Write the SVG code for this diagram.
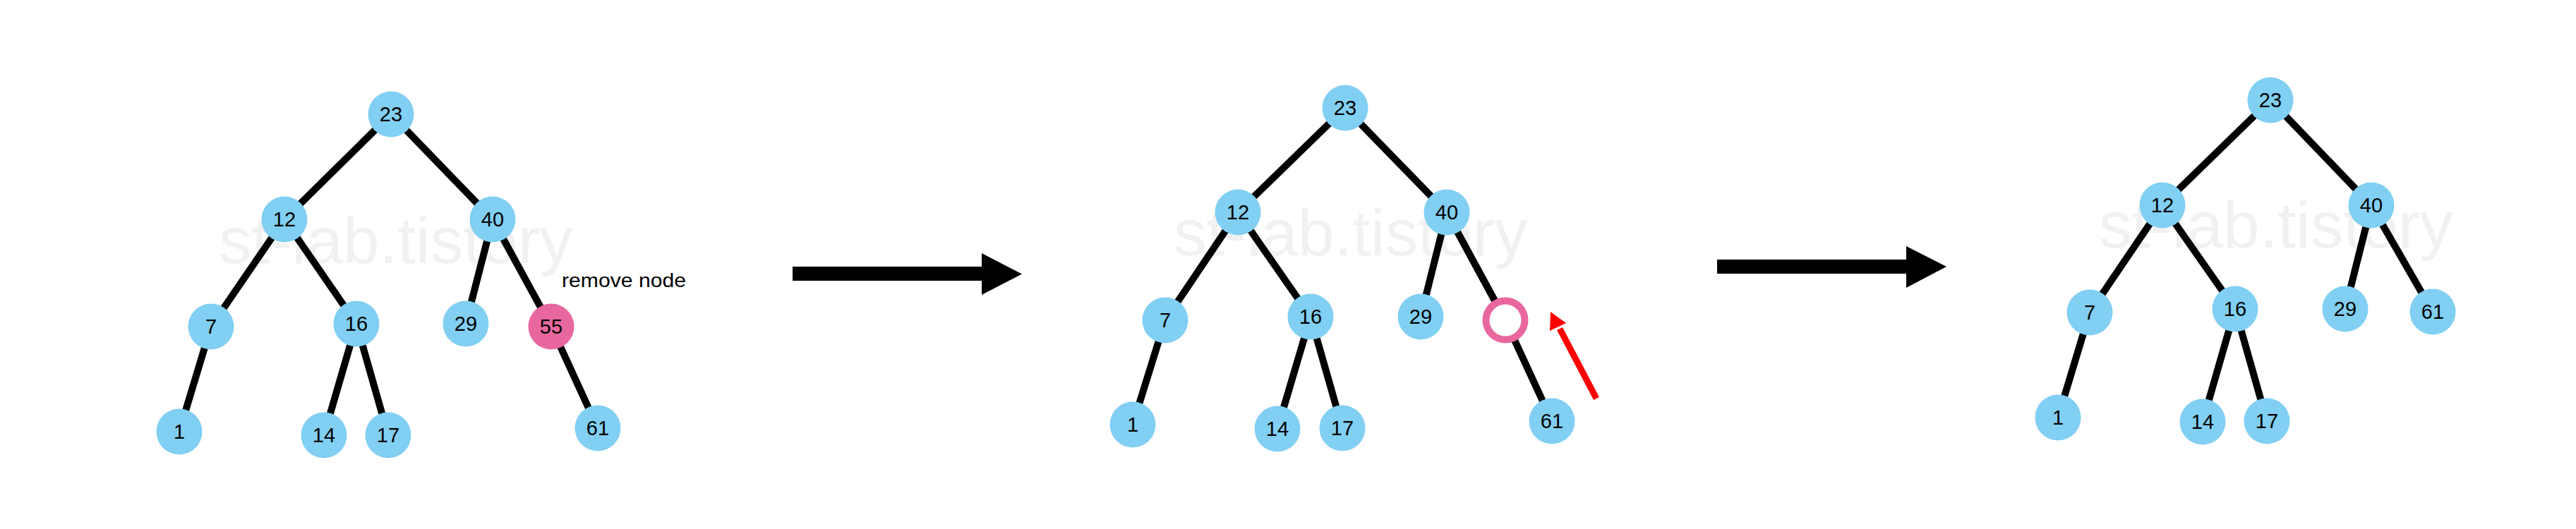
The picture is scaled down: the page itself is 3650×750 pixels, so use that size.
<svg xmlns="http://www.w3.org/2000/svg" width="3650" height="750" viewBox="0 0 3650 750">
<style>
.wm{font-family:"Liberation Sans",Arial,sans-serif;font-size:93px;fill:#f1f1f1}
.e{stroke:#000;stroke-width:10;fill:none}
.n{fill:#81cff2}
.p{fill:#e8679f}
.t{font-family:"Liberation Sans",Arial,sans-serif;font-size:29px;fill:#000;text-anchor:middle;dominant-baseline:central}
.lbl{font-family:"Liberation Sans",Arial,sans-serif;font-size:28px;fill:#000}
</style>
<rect width="3650" height="750" fill="#fff"/>
<g id="watermarks">
<text class="wm" x="310" y="373">st-lab.tistory</text>
<text class="wm" x="1663" y="362">st-lab.tistory</text>
<text class="wm" x="2974" y="351">st-lab.tistory</text>
</g>
<g id="connectors">
<!-- tree 1 -->
<line class="e" x1="554" y1="162" x2="403" y2="311"/>
<line class="e" x1="554" y1="162" x2="698" y2="311"/>
<line class="e" x1="403" y1="311" x2="299" y2="463"/>
<line class="e" x1="403" y1="311" x2="505" y2="459"/>
<line class="e" x1="299" y1="463" x2="254" y2="612"/>
<line class="e" x1="505" y1="459" x2="459" y2="617"/>
<line class="e" x1="505" y1="459" x2="550" y2="617"/>
<line class="e" x1="698" y1="311" x2="660" y2="459"/>
<line class="e" x1="698" y1="311" x2="781" y2="463"/>
<line class="e" x1="781" y1="463" x2="847" y2="607"/>
<!-- tree 2 -->
<line class="e" x1="1906" y1="153" x2="1754" y2="301"/>
<line class="e" x1="1906" y1="153" x2="2050" y2="301"/>
<line class="e" x1="1754" y1="301" x2="1651" y2="454"/>
<line class="e" x1="1754" y1="301" x2="1857" y2="449"/>
<line class="e" x1="1651" y1="454" x2="1605" y2="602"/>
<line class="e" x1="1857" y1="449" x2="1810" y2="608"/>
<line class="e" x1="1857" y1="449" x2="1902" y2="607"/>
<line class="e" x1="2050" y1="301" x2="2013" y2="449"/>
<line class="e" x1="2050" y1="301" x2="2133" y2="454"/>
<line class="e" x1="2133" y1="454" x2="2199" y2="597"/>
<!-- tree 3 -->
<line class="e" x1="3217" y1="142" x2="3064" y2="291"/>
<line class="e" x1="3217" y1="142" x2="3360" y2="291"/>
<line class="e" x1="3064" y1="291" x2="2961" y2="443"/>
<line class="e" x1="3064" y1="291" x2="3167" y2="438"/>
<line class="e" x1="2961" y1="443" x2="2916" y2="592"/>
<line class="e" x1="3167" y1="438" x2="3121" y2="598"/>
<line class="e" x1="3167" y1="438" x2="3212" y2="597"/>
<line class="e" x1="3360" y1="291" x2="3323" y2="438"/>
<line class="e" x1="3360" y1="291" x2="3447" y2="442"/>
<!-- big arrows -->
<path d="M1123,378 H1391 V359 L1448,388.5 L1391,418 V398 H1123 Z" fill="#000"/>
<path d="M2433,368 H2701 V349 L2758,378 L2701,408 V388 H2433 Z" fill="#000"/>
<!-- red arrow -->
<g id="red-arrow">
<line x1="2262" y1="565" x2="2210" y2="466" stroke="#ff0000" stroke-width="9"/>
<polygon points="2197,442 2196,469 2219,458" fill="#ff0000"/>
</g>
</g>
<g id="tree1">
<g id="t1-23"><circle class="n" cx="554" cy="162" r="32.5"/><text class="t" x="554" y="162">23</text></g>
<g id="t1-12"><circle class="n" cx="403" cy="311" r="32.5"/><text class="t" x="403" y="311">12</text></g>
<g id="t1-40"><circle class="n" cx="698" cy="311" r="32.5"/><text class="t" x="698" y="311">40</text></g>
<g id="t1-7"><circle class="n" cx="299" cy="463" r="32.5"/><text class="t" x="299" y="463">7</text></g>
<g id="t1-16"><circle class="n" cx="505" cy="459" r="32.5"/><text class="t" x="505" y="459">16</text></g>
<g id="t1-29"><circle class="n" cx="660" cy="459" r="32.5"/><text class="t" x="660" y="459">29</text></g>
<g id="t1-55"><circle class="p" cx="781" cy="463" r="32.5"/><text class="t" x="781" y="463">55</text></g>
<g id="t1-1"><circle class="n" cx="254" cy="612" r="32.5"/><text class="t" x="254" y="612">1</text></g>
<g id="t1-14"><circle class="n" cx="459" cy="617" r="32.5"/><text class="t" x="459" y="617">14</text></g>
<g id="t1-17"><circle class="n" cx="550" cy="617" r="32.5"/><text class="t" x="550" y="617">17</text></g>
<g id="t1-61"><circle class="n" cx="847" cy="607" r="32.5"/><text class="t" x="847" y="607">61</text></g>
<text class="lbl" x="796" y="407" textLength="176" lengthAdjust="spacingAndGlyphs">remove node</text>
</g>
<g id="tree2">
<g id="t2-23"><circle class="n" cx="1906" cy="153" r="32.5"/><text class="t" x="1906" y="153">23</text></g>
<g id="t2-12"><circle class="n" cx="1754" cy="301" r="32.5"/><text class="t" x="1754" y="301">12</text></g>
<g id="t2-40"><circle class="n" cx="2050" cy="301" r="32.5"/><text class="t" x="2050" y="301">40</text></g>
<g id="t2-7"><circle class="n" cx="1651" cy="454" r="32.5"/><text class="t" x="1651" y="454">7</text></g>
<g id="t2-16"><circle class="n" cx="1857" cy="449" r="32.5"/><text class="t" x="1857" y="449">16</text></g>
<g id="t2-29"><circle class="n" cx="2013" cy="449" r="32.5"/><text class="t" x="2013" y="449">29</text></g>
<g id="t2-empty"><circle cx="2133" cy="454" r="27.5" fill="#fff" stroke="#e8679f" stroke-width="10"/></g>
<g id="t2-1"><circle class="n" cx="1605" cy="602" r="32.5"/><text class="t" x="1605" y="602">1</text></g>
<g id="t2-14"><circle class="n" cx="1810" cy="608" r="32.5"/><text class="t" x="1810" y="608">14</text></g>
<g id="t2-17"><circle class="n" cx="1902" cy="607" r="32.5"/><text class="t" x="1902" y="607">17</text></g>
<g id="t2-61"><circle class="n" cx="2199" cy="597" r="32.5"/><text class="t" x="2199" y="597">61</text></g>
</g>
<g id="tree3">
<g id="t3-23"><circle class="n" cx="3217" cy="142" r="32.5"/><text class="t" x="3217" y="142">23</text></g>
<g id="t3-12"><circle class="n" cx="3064" cy="291" r="32.5"/><text class="t" x="3064" y="291">12</text></g>
<g id="t3-40"><circle class="n" cx="3360" cy="291" r="32.5"/><text class="t" x="3360" y="291">40</text></g>
<g id="t3-7"><circle class="n" cx="2961" cy="443" r="32.5"/><text class="t" x="2961" y="443">7</text></g>
<g id="t3-16"><circle class="n" cx="3167" cy="438" r="32.5"/><text class="t" x="3167" y="438">16</text></g>
<g id="t3-29"><circle class="n" cx="3323" cy="438" r="32.5"/><text class="t" x="3323" y="438">29</text></g>
<g id="t3-61"><circle class="n" cx="3447" cy="442" r="32.5"/><text class="t" x="3447" y="442">61</text></g>
<g id="t3-1"><circle class="n" cx="2916" cy="592" r="32.5"/><text class="t" x="2916" y="592">1</text></g>
<g id="t3-14"><circle class="n" cx="3121" cy="598" r="32.5"/><text class="t" x="3121" y="598">14</text></g>
<g id="t3-17"><circle class="n" cx="3212" cy="597" r="32.5"/><text class="t" x="3212" y="597">17</text></g>
</g>
</svg>
